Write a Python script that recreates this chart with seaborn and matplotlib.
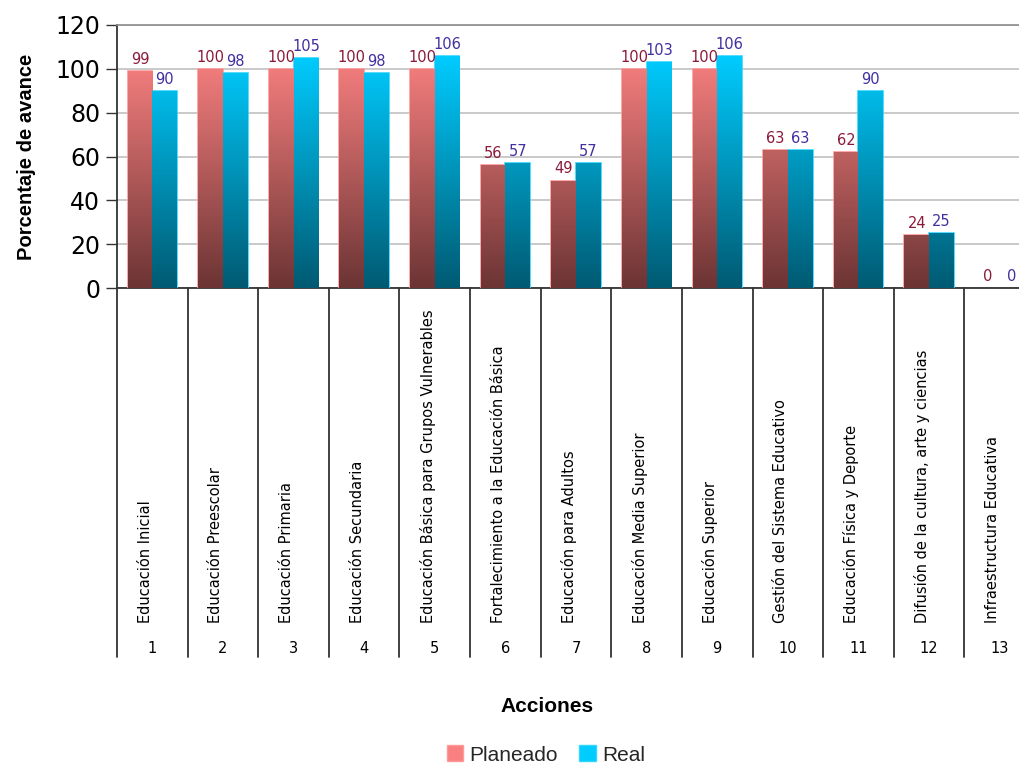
import numpy as np
import pandas as pd
import matplotlib.pyplot as plt
import seaborn as sns
from matplotlib.colors import LinearSegmentedColormap
from matplotlib.patches import Patch

sns.set_theme(style="white")
plt.rcParams['font.family'] = ['DejaVu Sans']

# Data
acciones = ["Educación Inicial", "Educación Preescolar", "Educación Primaria",
            "Educación Secundaria", "Educación Básica para Grupos Vulnerables",
            "Fortalecimiento a la Educación Básica", "Educación para Adultos",
            "Educación Media Superior", "Educación Superior",
            "Gestión del Sistema Educativo", "Educación Física y Deporte",
            "Difusión de la cultura, arte y ciencias", "Infraestructura Educativa"]
numeros = [str(i) for i in range(1, 14)]
planeado = [99, 100, 100, 100, 100, 56, 49, 100, 100, 63, 62, 24, 0]
real = [90, 98, 105, 98, 106, 57, 57, 103, 106, 63, 90, 25, 0]
series = ["Planeado", "Real"]

df = pd.DataFrame({
    "num": numeros * 2,
    "valor": planeado + real,
    "serie": ["Planeado"] * 13 + ["Real"] * 13,
})

grad = {
    "Planeado": ("#f98080", "#6c3434"),
    "Real": ("#00ccff", "#005a72"),
}
edge = {"Planeado": "#ff9a9a", "Real": "#33d6ff"}
label_col = {"Planeado": "#8b1a3a", "Real": "#4030a0"}

fig = plt.figure(figsize=(10.2, 7.66), dpi=100)
ax = fig.add_axes([117 / 1020, 1 - 288 / 766, 918 / 1020, 263 / 766])

sns.barplot(data=df, x="num", y="valor", hue="serie", hue_order=series,
            order=numeros, width=0.7, ax=ax, legend=False, zorder=3)

# gradient fill clipped to each bar
for cont, s in zip(ax.containers, series):
    cmap = LinearSegmentedColormap.from_list(s, [grad[s][1], grad[s][0]])
    for p in cont.patches:
        h = p.get_height()
        if h <= 0:
            p.set_visible(False)
            continue
        x0 = p.get_x()
        w = p.get_width()
        img = np.linspace(0, 1, 256).reshape(-1, 1) * (h / 106)
        im = ax.imshow(img, extent=[x0, x0 + w, 0, h], origin="lower",
                       aspect="auto", cmap=cmap, vmin=0, vmax=1, zorder=3)
        im.set_clip_path(p)
        p.set_facecolor("none")
        p.set_edgecolor(edge[s])
        p.set_linewidth(1.2)
    ax.bar_label(cont, labels=[str(int(v)) for v in cont.datavalues], padding=3,
                 color=label_col[s], fontsize=10.5)

ax.set_xlim(-0.5, 12.5)
ax.set_ylim(0, 120)
ax.set_aspect("auto")

ax.set_yticks(range(0, 121, 20))
ax.tick_params(axis="y", labelsize=17, length=8, width=1, direction="out",
               left=True, color="#333333", pad=4, labelcolor="black")
ax.set_xticks([])
ax.yaxis.grid(True, color="#c0c0c0", linewidth=1.2, zorder=0)
ax.set_axisbelow(True)
ax.set_xlabel("")
ax.set_ylabel("Porcentaje de avance", fontsize=14.5, fontweight="bold",
              family="Liberation Sans", labelpad=14, color="black")

for side in ["left", "bottom"]:
    ax.spines[side].set_color("#333333")
    ax.spines[side].set_linewidth(1.3)
ax.spines["top"].set_color("#909090")
ax.spines["right"].set_visible(False)

# category table below the axis
tr = ax.get_xaxis_transform()
for i in range(14):
    ax.plot([i - 0.5, i - 0.5], [0, -1.403], transform=tr, color="#333333",
            linewidth=1.3, clip_on=False)
for i, (nombre, n) in enumerate(zip(acciones, numeros)):
    ax.text(i - 0.1, -1.274, nombre, rotation=90, ha="center", va="bottom",
            fontsize=10.5, transform=tr, color="black")
    ax.text(i, -1.369, n, ha="center", va="center", fontsize=10.5,
            transform=tr, color="black")

fig.text(0.536, 1 - 706 / 766, "Acciones", ha="center", va="center",
         fontsize=15, fontweight="bold", family="Liberation Sans", color="black")

handles = [Patch(facecolor=grad[s][0], edgecolor=edge[s]) for s in series]
fig.legend(handles, series, loc="center", bbox_to_anchor=(0.535, 1 - 755 / 766),
           ncol=2, frameon=False, handlelength=0.8,
           handleheight=0.8, handletextpad=0.3, columnspacing=1.0,
           prop={"family": "Liberation Sans", "size": 15})

fig.savefig("out.png", dpi=100)
